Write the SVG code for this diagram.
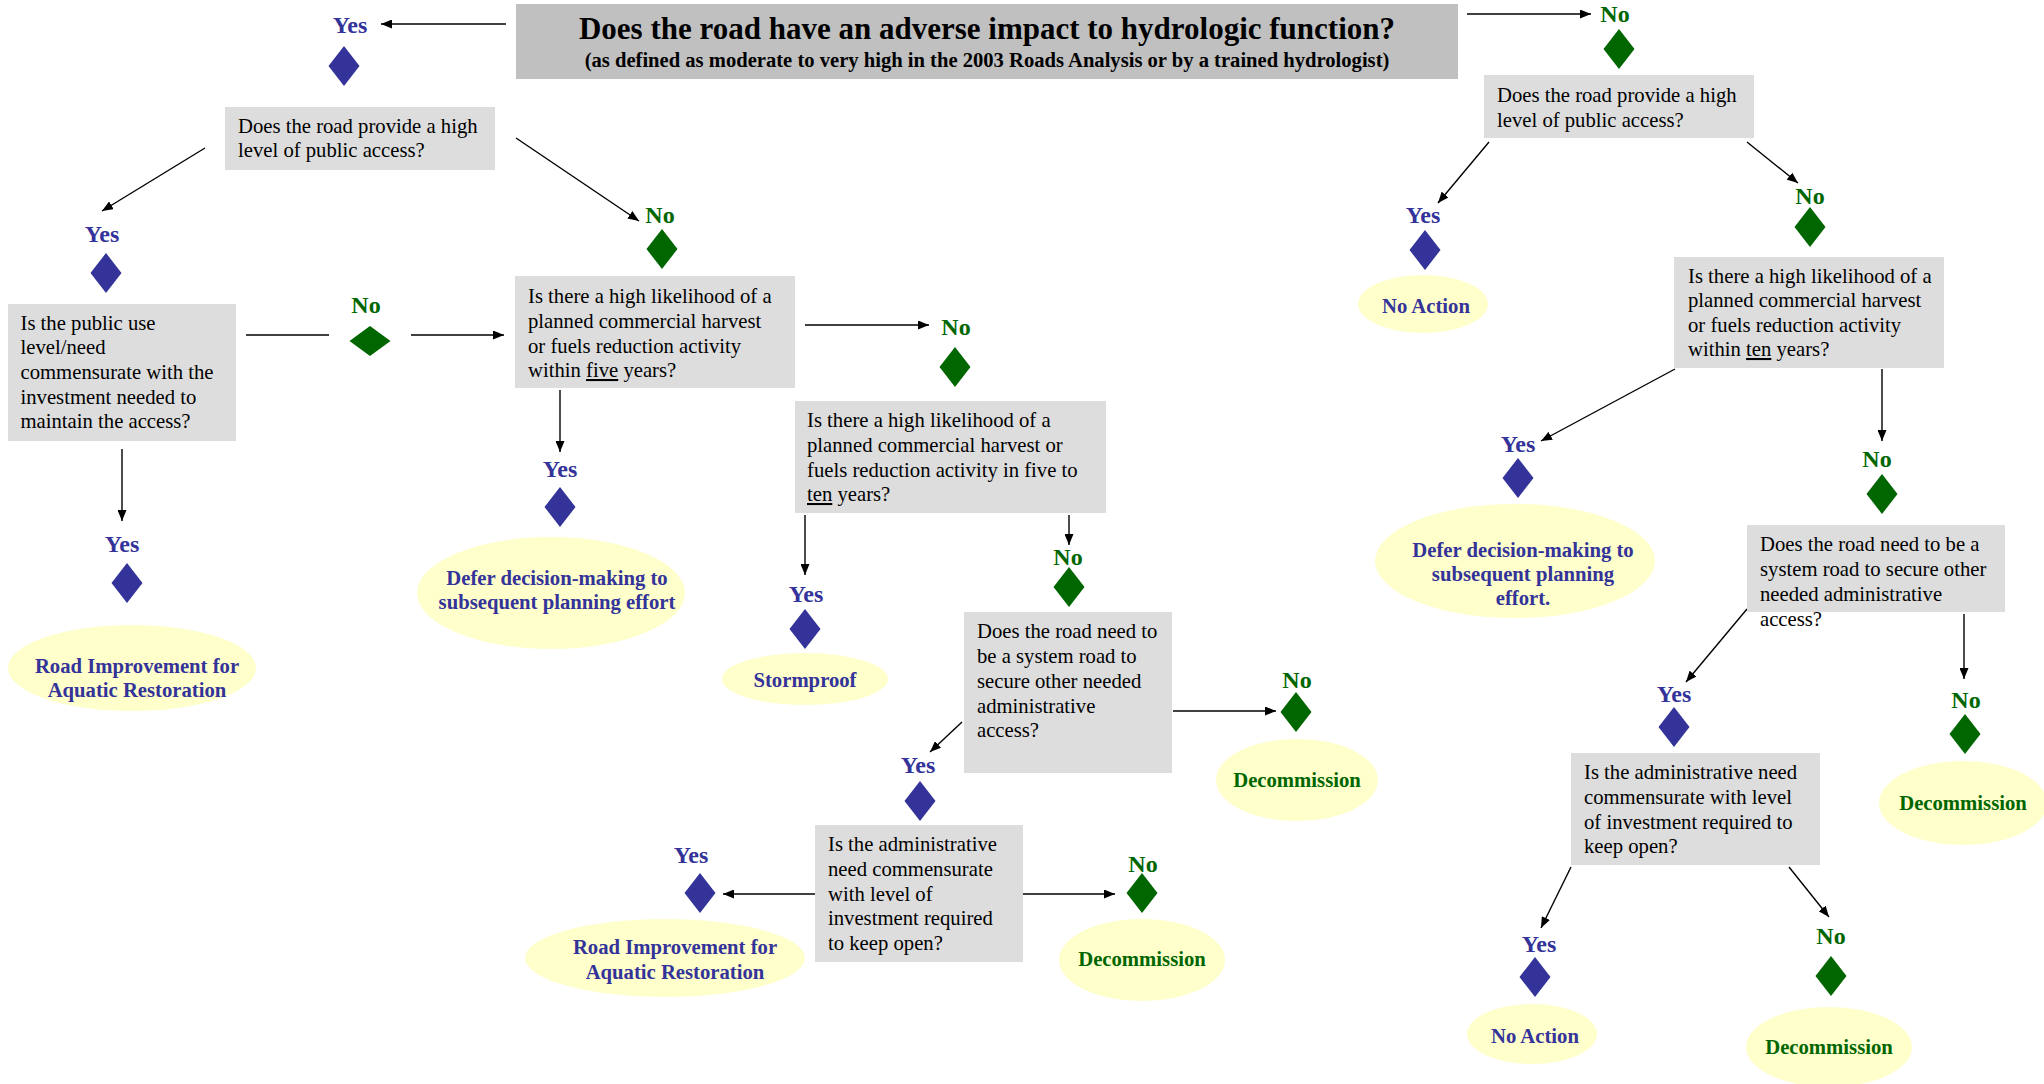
<svg xmlns="http://www.w3.org/2000/svg" width="2044" height="1084" viewBox="0 0 2044 1084">
  <style>
    .title-box { fill: #c0c0c0; }
    .title { font-family: "Liberation Serif", "Times New Roman", serif; font-weight: bold; font-size: 31px; fill: #000; text-anchor: middle; }
    .subtitle { font-family: "Liberation Serif", "Times New Roman", serif; font-weight: bold; font-size: 20.6px; fill: #000; text-anchor: middle; }
    .q { fill: #dddddd; }
    .qt { font-family: "Liberation Serif", "Times New Roman", serif; font-size: 20.7px; fill: #000; }
    .term { fill: #ffffcc; }
    .tt { font-family: "Liberation Serif", "Times New Roman", serif; font-weight: bold; font-size: 20.7px; text-anchor: middle; }
    .lbl { font-family: "Liberation Serif", "Times New Roman", serif; font-weight: bold; font-size: 24px; text-anchor: middle; }
    .yes { fill: #333399; }
    .no { fill: #006600; }
    .u { text-decoration: underline; }
    .conn line { stroke: #000; stroke-width: 1.4; fill: none; }
    .conn .arr { marker-end: url(#ah); }
  </style>
  <defs>
    <marker id="ah" markerUnits="userSpaceOnUse" markerWidth="11" markerHeight="9" refX="11" refY="4.5" orient="auto">
      <path d="M0,0 L11,4.5 L0,9 Z" fill="#000"/>
    </marker>
    <path id="dia" d="M0,-20 L15.5,0 L0,20 L-15.5,0 Z"/>
    <path id="dia-wide" d="M0,-15 L20.5,0 L0,15 L-20.5,0 Z"/>
  </defs>

  <rect width="2044" height="1084" fill="#ffffff"/>

  <!-- connectors -->
  <g id="connectors" class="conn">
    <line class="arr" x1="506" y1="24" x2="381" y2="24"/>
    <line class="arr" x1="1467" y1="14" x2="1591" y2="14"/>
    <line class="arr" x1="205" y1="148" x2="102" y2="211"/>
    <line class="arr" x1="516" y1="138" x2="639" y2="221"/>
    <line x1="246" y1="335" x2="329" y2="335"/>
    <line class="arr" x1="411" y1="335" x2="504" y2="335"/>
    <line class="arr" x1="122" y1="449" x2="122" y2="521"/>
    <line class="arr" x1="805" y1="325" x2="929" y2="325"/>
    <line class="arr" x1="560" y1="390" x2="560" y2="452"/>
    <line class="arr" x1="805" y1="515" x2="805" y2="575"/>
    <line class="arr" x1="1069" y1="515" x2="1069" y2="545"/>
    <line class="arr" x1="1173" y1="711" x2="1276" y2="711"/>
    <line class="arr" x1="962" y1="722" x2="930" y2="752"/>
    <line class="arr" x1="815" y1="894" x2="723" y2="894"/>
    <line class="arr" x1="1023" y1="894" x2="1115" y2="894"/>
    <line class="arr" x1="1489" y1="142" x2="1438" y2="203"/>
    <line class="arr" x1="1747" y1="142" x2="1798" y2="183"/>
    <line class="arr" x1="1675" y1="369" x2="1541" y2="441"/>
    <line class="arr" x1="1882" y1="369" x2="1882" y2="441"/>
    <line class="arr" x1="1747" y1="609" x2="1686" y2="682"/>
    <line class="arr" x1="1964" y1="614" x2="1964" y2="679"/>
    <line class="arr" x1="1571" y1="867" x2="1541" y2="928"/>
    <line class="arr" x1="1789" y1="867" x2="1829" y2="917"/>
  </g>

  <!-- root question -->
  <g id="q-hydrologic">
    <rect class="title-box" x="516" y="4" width="942" height="75"/>
    <text class="title" x="987" y="39">Does the road have an adverse impact to hydrologic function?</text>
    <text class="subtitle" x="987" y="67">(as defined as moderate to very high in the 2003 Roads Analysis or by a trained hydrologist)</text>
  </g>

  <!-- left branch: adverse impact = yes -->
  <g id="yes-impact">
    <text class="lbl yes" x="350" y="33">Yes</text>
    <use href="#dia" class="yes" x="344" y="66"/>
  </g>
  <g id="q-public-access-1">
    <rect class="q" x="225" y="107" width="270" height="63"/>
    <text class="qt"><tspan x="238" y="133">Does the road provide a high</tspan><tspan x="238" y="157">level of public access?</tspan></text>
  </g>
  <g id="yes-public-1">
    <text class="lbl yes" x="102" y="242">Yes</text>
    <use href="#dia" class="yes" x="106" y="273"/>
  </g>
  <g id="no-public-1">
    <text class="lbl no" x="660" y="223">No</text>
    <use href="#dia" class="no" x="662" y="249"/>
  </g>
  <g id="q-public-use">
    <rect class="q" x="8" y="304" width="228" height="137"/>
    <text class="qt"><tspan x="20.5" y="330">Is the public use</tspan><tspan x="20.5" y="354">level/need</tspan><tspan x="20.5" y="379">commensurate with the</tspan><tspan x="20.5" y="404">investment needed to</tspan><tspan x="20.5" y="428">maintain the access?</tspan></text>
  </g>
  <g id="no-public-use">
    <text class="lbl no" x="366" y="313">No</text>
    <use href="#dia-wide" class="no" x="370" y="341"/>
  </g>
  <g id="yes-public-use">
    <text class="lbl yes" x="122" y="552">Yes</text>
    <use href="#dia" class="yes" x="127" y="583"/>
  </g>
  <g id="t-road-improvement-1">
    <ellipse class="term" cx="132" cy="668" rx="124" ry="43"/>
    <text class="tt yes"><tspan x="137" y="673">Road Improvement for</tspan><tspan x="137" y="697">Aquatic Restoration</tspan></text>
  </g>
  <g id="q-five-years">
    <rect class="q" x="515" y="276" width="280" height="112"/>
    <text class="qt"><tspan x="528" y="303">Is there a high likelihood of a</tspan><tspan x="528" y="328">planned commercial harvest</tspan><tspan x="528" y="353">or fuels reduction activity</tspan><tspan x="528" y="377">within <tspan class="u">five</tspan> years?</tspan></text>
  </g>
  <g id="yes-five">
    <text class="lbl yes" x="560" y="477">Yes</text>
    <use href="#dia" class="yes" x="560" y="507"/>
  </g>
  <g id="t-defer-1">
    <ellipse class="term" cx="551" cy="593" rx="134" ry="56"/>
    <text class="tt yes"><tspan x="557" y="585">Defer decision-making to</tspan><tspan x="557" y="609">subsequent planning effort</tspan></text>
  </g>
  <g id="no-five">
    <text class="lbl no" x="956" y="335">No</text>
    <use href="#dia" class="no" x="955" y="367"/>
  </g>
  <g id="q-five-to-ten">
    <rect class="q" x="795" y="401" width="311" height="112"/>
    <text class="qt"><tspan x="807" y="427">Is there a high likelihood of a</tspan><tspan x="807" y="452">planned commercial harvest or</tspan><tspan x="807" y="477">fuels reduction activity in five to</tspan><tspan x="807" y="501"><tspan class="u">ten</tspan> years?</tspan></text>
  </g>
  <g id="yes-five-to-ten">
    <text class="lbl yes" x="806" y="602">Yes</text>
    <use href="#dia" class="yes" x="805" y="629"/>
  </g>
  <g id="t-stormproof">
    <ellipse class="term" cx="805" cy="679" rx="83" ry="26"/>
    <text class="tt yes" x="805" y="687">Stormproof</text>
  </g>
  <g id="no-five-to-ten">
    <text class="lbl no" x="1068" y="565">No</text>
    <use href="#dia" class="no" x="1069" y="587"/>
  </g>
  <g id="q-system-road-1">
    <rect class="q" x="964" y="612" width="208" height="161"/>
    <text class="qt"><tspan x="977" y="638">Does the road need to</tspan><tspan x="977" y="663">be a system road to</tspan><tspan x="977" y="688">secure other needed</tspan><tspan x="977" y="713">administrative</tspan><tspan x="977" y="737">access?</tspan></text>
  </g>
  <g id="no-system-1">
    <text class="lbl no" x="1297" y="688">No</text>
    <use href="#dia" class="no" x="1296" y="712"/>
  </g>
  <g id="t-decommission-1">
    <ellipse class="term" cx="1297" cy="780" rx="81" ry="41"/>
    <text class="tt no" x="1297" y="787">Decommission</text>
  </g>
  <g id="yes-system-1">
    <text class="lbl yes" x="918" y="773">Yes</text>
    <use href="#dia" class="yes" x="920" y="801"/>
  </g>
  <g id="q-admin-need-1">
    <rect class="q" x="815" y="825" width="208" height="137"/>
    <text class="qt"><tspan x="828" y="851">Is the administrative</tspan><tspan x="828" y="876">need commensurate</tspan><tspan x="828" y="901">with level of</tspan><tspan x="828" y="925">investment required</tspan><tspan x="828" y="950">to keep open?</tspan></text>
  </g>
  <g id="yes-admin-1">
    <text class="lbl yes" x="691" y="863">Yes</text>
    <use href="#dia" class="yes" x="700" y="893"/>
  </g>
  <g id="t-road-improvement-2">
    <ellipse class="term" cx="665" cy="958" rx="140" ry="39"/>
    <text class="tt yes"><tspan x="675" y="954">Road Improvement for</tspan><tspan x="675" y="979">Aquatic Restoration</tspan></text>
  </g>
  <g id="no-admin-1">
    <text class="lbl no" x="1143" y="872">No</text>
    <use href="#dia" class="no" x="1142" y="893"/>
  </g>
  <g id="t-decommission-2">
    <ellipse class="term" cx="1142" cy="960" rx="83" ry="41"/>
    <text class="tt no" x="1142" y="966">Decommission</text>
  </g>

  <!-- right branch: adverse impact = no -->
  <g id="no-impact">
    <text class="lbl no" x="1615" y="22">No</text>
    <use href="#dia" class="no" x="1619" y="49"/>
  </g>
  <g id="q-public-access-2">
    <rect class="q" x="1484" y="75" width="270" height="63"/>
    <text class="qt"><tspan x="1497" y="102">Does the road provide a high</tspan><tspan x="1497" y="127">level of public access?</tspan></text>
  </g>
  <g id="yes-public-2">
    <text class="lbl yes" x="1423" y="223">Yes</text>
    <use href="#dia" class="yes" x="1425" y="250"/>
  </g>
  <g id="t-no-action-1">
    <ellipse class="term" cx="1423" cy="304" rx="65" ry="29"/>
    <text class="tt yes" x="1426" y="313">No Action</text>
  </g>
  <g id="no-public-2">
    <text class="lbl no" x="1810" y="204">No</text>
    <use href="#dia" class="no" x="1810" y="227"/>
  </g>
  <g id="q-ten-years">
    <rect class="q" x="1674" y="257" width="270" height="111"/>
    <text class="qt"><tspan x="1688" y="283">Is there a high likelihood of a</tspan><tspan x="1688" y="307">planned commercial harvest</tspan><tspan x="1688" y="332">or fuels reduction activity</tspan><tspan x="1688" y="356">within <tspan class="u">ten</tspan> years?</tspan></text>
  </g>
  <g id="yes-ten">
    <text class="lbl yes" x="1518" y="452">Yes</text>
    <use href="#dia" class="yes" x="1518" y="478"/>
  </g>
  <g id="t-defer-2">
    <ellipse class="term" cx="1515" cy="561" rx="140" ry="57"/>
    <text class="tt yes"><tspan x="1523" y="557">Defer decision-making to</tspan><tspan x="1523" y="581">subsequent planning</tspan><tspan x="1523" y="605">effort.</tspan></text>
  </g>
  <g id="no-ten">
    <text class="lbl no" x="1877" y="467">No</text>
    <use href="#dia" class="no" x="1882" y="494"/>
  </g>
  <g id="q-system-road-2">
    <rect class="q" x="1747" y="525" width="258" height="87"/>
    <text class="qt"><tspan x="1760" y="551">Does the road need to be a</tspan><tspan x="1760" y="576">system road to secure other</tspan><tspan x="1760" y="601">needed administrative</tspan><tspan x="1760" y="626">access?</tspan></text>
  </g>
  <g id="yes-system-2">
    <text class="lbl yes" x="1674" y="702">Yes</text>
    <use href="#dia" class="yes" x="1674" y="727"/>
  </g>
  <g id="no-system-2">
    <text class="lbl no" x="1966" y="708">No</text>
    <use href="#dia" class="no" x="1965" y="734"/>
  </g>
  <g id="t-decommission-3">
    <ellipse class="term" cx="1963" cy="803" rx="84" ry="42"/>
    <text class="tt no" x="1963" y="810">Decommission</text>
  </g>
  <g id="q-admin-need-2">
    <rect class="q" x="1571" y="753" width="249" height="112"/>
    <text class="qt"><tspan x="1584" y="779">Is the administrative need</tspan><tspan x="1584" y="804">commensurate with level</tspan><tspan x="1584" y="829">of investment required to</tspan><tspan x="1584" y="853">keep open?</tspan></text>
  </g>
  <g id="yes-admin-2">
    <text class="lbl yes" x="1539" y="952">Yes</text>
    <use href="#dia" class="yes" x="1535" y="977"/>
  </g>
  <g id="t-no-action-2">
    <ellipse class="term" cx="1532" cy="1034" rx="65" ry="30"/>
    <text class="tt yes" x="1535" y="1043">No Action</text>
  </g>
  <g id="no-admin-2">
    <text class="lbl no" x="1831" y="944">No</text>
    <use href="#dia" class="no" x="1831" y="976"/>
  </g>
  <g id="t-decommission-4">
    <ellipse class="term" cx="1829" cy="1047" rx="83" ry="40"/>
    <text class="tt no" x="1829" y="1054">Decommission</text>
  </g>
</svg>
